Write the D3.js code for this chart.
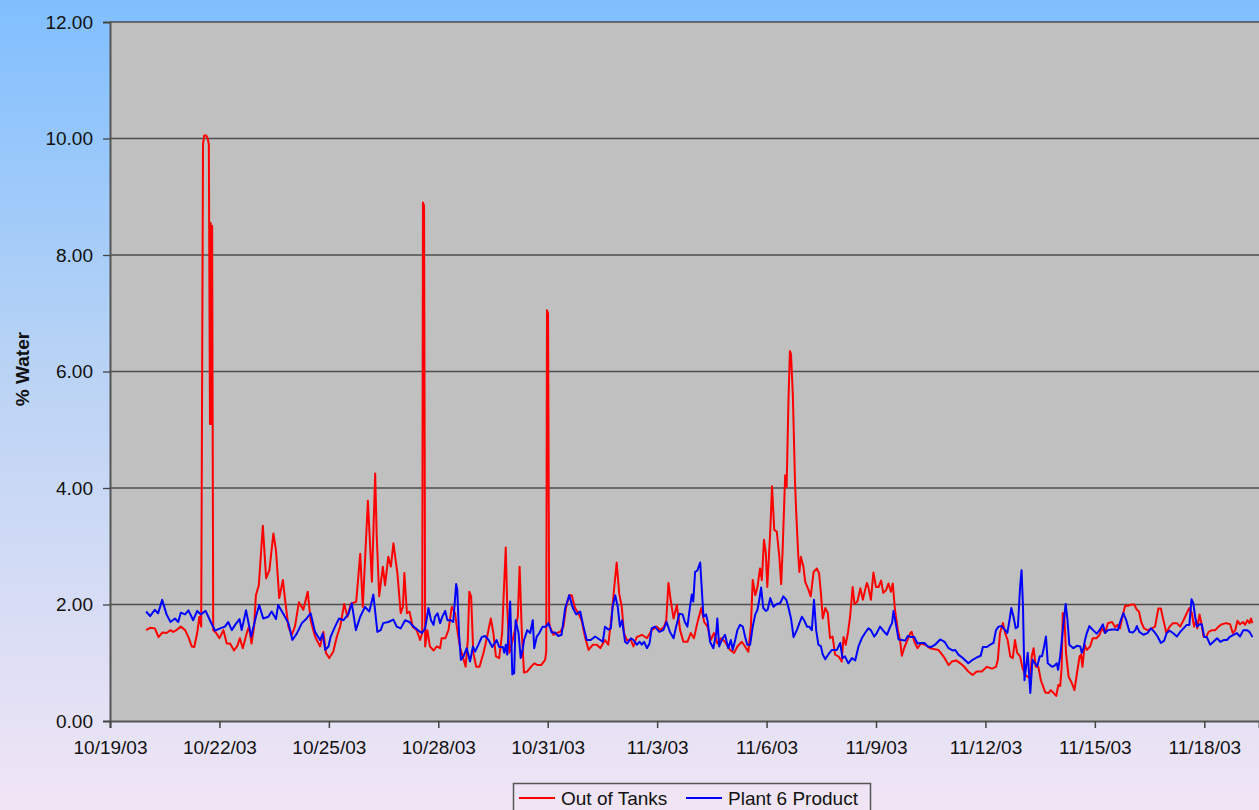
<!DOCTYPE html>
<html>
<head>
<meta charset="utf-8">
<script src="https://cdn.jsdelivr.net/npm/d3@7"></script>
<style>
  html, body { margin: 0; padding: 0; overflow: hidden; }
  svg { display: block; font-family: Arial, "Liberation Sans", sans-serif; }
</style>
</head>
<body>
<svg id="chart" width="1259" height="810"></svg>
<script>
// day offsets from 10/19/03 00:00, % water
const startDay = '10/19/03';
const tickLabels = ['10/19/03', '10/22/03', '10/25/03', '10/28/03', '10/31/03', '11/3/03',
  '11/6/03', '11/9/03', '11/12/03', '11/15/03', '11/18/03'];
const yTicks = [0, 2, 4, 6, 8, 10, 12];
const seriesNames = ['Out of Tanks', 'Plant 6 Product'];

const outOfTanks = [
  [0.99, 1.56], [1.10, 1.60], [1.23, 1.59], [1.33, 1.44], [1.44, 1.52], [1.55, 1.51], [1.66, 1.56],
  [1.73, 1.53], [1.82, 1.56], [1.94, 1.62], [2.06, 1.56], [2.15, 1.44], [2.24, 1.28], [2.31, 1.27],
  [2.39, 1.51], [2.45, 1.79], [2.50, 1.62],
  [2.55, 9.9], [2.58, 10.05], [2.64, 10.05], [2.68, 10.0], [2.71, 9.9], [2.74, 5.1], [2.76, 8.55],
  [2.78, 5.1], [2.80, 8.5], [2.83, 1.56],
  [2.91, 1.51], [3.00, 1.42], [3.11, 1.56], [3.20, 1.33], [3.29, 1.33], [3.40, 1.21], [3.49, 1.29],
  [3.56, 1.42], [3.64, 1.25], [3.75, 1.51], [3.81, 1.62], [3.88, 1.33], [3.95, 1.62], [4.00, 2.16],
  [4.08, 2.33], [4.19, 3.35], [4.28, 2.45], [4.37, 2.59], [4.48, 3.22], [4.55, 2.93], [4.64, 2.11],
  [4.74, 2.42], [4.80, 2.08], [4.89, 1.62], [4.98, 1.48], [5.07, 1.62], [5.18, 2.04], [5.30, 1.91],
  [5.42, 2.22], [5.50, 1.73], [5.62, 1.45], [5.76, 1.28], [5.85, 1.53], [5.92, 1.17], [6.01, 1.08],
  [6.12, 1.19], [6.22, 1.45], [6.31, 1.62], [6.42, 2.01], [6.51, 1.79], [6.60, 2.01], [6.75, 2.05],
  [6.86, 2.87], [6.93, 1.96], [7.07, 3.78], [7.18, 2.39], [7.27, 4.25], [7.31, 3.22], [7.38, 2.14],
  [7.48, 2.65], [7.54, 2.33], [7.63, 2.82], [7.70, 2.65], [7.77, 3.05], [7.88, 2.53], [7.97, 1.85],
  [8.03, 1.96], [8.07, 2.54], [8.14, 1.85], [8.21, 1.88], [8.30, 1.62], [8.41, 1.56], [8.50, 1.39],
  [8.56, 1.51], [8.58, 8.9], [8.61, 8.85], [8.64, 1.28], [8.70, 1.56], [8.77, 1.28], [8.87, 1.21],
  [8.96, 1.28], [9.05, 1.25], [9.09, 1.42], [9.19, 1.42], [9.28, 1.56], [9.37, 1.96], [9.46, 1.85],
  [9.52, 1.56], [9.60, 1.25], [9.67, 1.11], [9.75, 0.93], [9.81, 1.39], [9.85, 2.22], [9.90, 2.14],
  [9.96, 1.17], [10.04, 0.93], [10.13, 0.93], [10.24, 1.17], [10.33, 1.42], [10.44, 1.76], [10.51, 1.51],
  [10.58, 1.11], [10.67, 1.08], [10.75, 1.51], [10.80, 2.27], [10.85, 2.98], [10.89, 1.96], [10.95, 1.17],
  [11.04, 1.39], [11.10, 1.56], [11.18, 1.79], [11.23, 2.65], [11.29, 1.51], [11.35, 0.83], [11.44, 0.85],
  [11.54, 0.93], [11.63, 0.99], [11.73, 0.96], [11.82, 0.96], [11.93, 1.05], [11.96, 1.2], [11.98, 7.05],
  [12.01, 7.0], [12.04, 1.7], [12.06, 1.62], [12.16, 1.48], [12.25, 1.51], [12.34, 1.53], [12.43, 1.62],
  [12.50, 1.94], [12.59, 2.16], [12.66, 2.16], [12.75, 1.94], [12.84, 1.85], [12.93, 1.73], [13.02, 1.45],
  [13.12, 1.22], [13.24, 1.31], [13.35, 1.31], [13.44, 1.25],
  [13.57, 1.39], [13.66, 1.31], [13.75, 1.79], [13.82, 2.27], [13.89, 2.72], [13.96, 2.19], [14.03, 1.96],
  [14.09, 1.51], [14.17, 1.39], [14.28, 1.39], [14.35, 1.28], [14.44, 1.44], [14.58, 1.48], [14.72, 1.42],
  [14.85, 1.56], [14.99, 1.62], [15.08, 1.56], [15.19, 1.62], [15.25, 1.73], [15.31, 2.37], [15.37, 2.08],
  [15.45, 1.76], [15.54, 1.99], [15.63, 1.56], [15.72, 1.36], [15.83, 1.36], [15.92, 1.51], [16.01, 1.42],
  [16.10, 1.68], [16.21, 1.94], [16.29, 1.70], [16.38, 1.62], [16.47, 1.39], [16.56, 1.51], [16.65, 1.33],
  [16.75, 1.42], [16.86, 1.36], [17.00, 1.22], [17.11, 1.17], [17.20, 1.28], [17.32, 1.36], [17.41, 1.28],
  [17.50, 1.19], [17.57, 1.62], [17.62, 2.42], [17.69, 2.16], [17.75, 2.30], [17.82, 2.62], [17.87, 2.42],
  [17.93, 3.11], [17.98, 2.88], [18.02, 2.30], [18.10, 3.25], [18.15, 4.03], [18.21, 3.28], [18.28, 3.25],
  [18.35, 2.82], [18.40, 2.35], [18.44, 2.93], [18.51, 4.22], [18.55, 4.02], [18.60, 5.5], [18.64, 6.35],
  [18.67, 6.3], [18.72, 5.6], [18.78, 4.1], [18.81, 3.62], [18.87, 2.82], [18.90, 2.56], [18.94, 2.82],
  [19.01, 2.65], [19.06, 2.39], [19.15, 2.25], [19.21, 2.14], [19.29, 2.56], [19.38, 2.62], [19.44, 2.53],
  [19.49, 2.19], [19.54, 1.76], [19.61, 1.94], [19.68, 1.85], [19.74, 1.42], [19.81, 1.45],
  [19.88, 1.14], [19.97, 1.11], [20.06, 1.02], [20.11, 1.44], [20.17, 1.31], [20.23, 1.51], [20.29, 1.79],
  [20.36, 2.30], [20.41, 2.01], [20.49, 2.05], [20.57, 2.28], [20.64, 2.08], [20.70, 2.25], [20.75, 2.37],
  [20.79, 2.30], [20.86, 2.08], [20.93, 2.55], [21.00, 2.30], [21.07, 2.30], [21.14, 2.41], [21.20, 2.20],
  [21.28, 2.25], [21.34, 2.36], [21.41, 2.22], [21.46, 2.36], [21.52, 1.91], [21.60, 1.56], [21.66, 1.39],
  [21.71, 1.12], [21.77, 1.25], [21.84, 1.36], [21.94, 1.51], [21.98, 1.53], [22.05, 1.36], [22.14, 1.25],
  [22.23, 1.33], [22.35, 1.31], [22.48, 1.25], [22.62, 1.23], [22.71, 1.22], [22.85, 1.11], [22.99, 0.96],
  [23.08, 1.02], [23.20, 1.04], [23.31, 0.99], [23.42, 0.93], [23.53, 0.85], [23.65, 0.79], [23.76, 0.85],
  [23.90, 0.85], [24.04, 0.93], [24.18, 0.90], [24.29, 0.93], [24.34, 1.05], [24.40, 1.51], [24.48, 1.68],
  [24.54, 1.51], [24.61, 1.39], [24.68, 1.11], [24.75, 1.08], [24.81, 1.39], [24.87, 1.17], [24.95, 1.11],
  [25.01, 0.93], [25.09, 0.79], [25.16, 0.76], [25.23, 0.73], [25.27, 1.11], [25.32, 1.25], [25.38, 0.93],
  [25.45, 0.93], [25.52, 0.70], [25.64, 0.49], [25.73, 0.48], [25.79, 0.53], [25.87, 0.48], [25.94, 0.43],
  [26.00, 0.62], [26.05, 0.60],
  [26.09, 0.93], [26.12, 1.85], [26.16, 1.85], [26.21, 1.17], [26.28, 0.76], [26.37, 0.65], [26.44, 0.53],
  [26.51, 0.82], [26.58, 1.11], [26.62, 1.14], [26.66, 0.93], [26.72, 1.31], [26.78, 1.22], [26.87, 1.28],
  [26.94, 1.42], [27.04, 1.42], [27.13, 1.48], [27.19, 1.59], [27.28, 1.51], [27.36, 1.68], [27.47, 1.70],
  [27.56, 1.61], [27.62, 1.65], [27.69, 1.59], [27.77, 1.83], [27.83, 1.98], [27.92, 1.98], [28.01, 2.00],
  [28.08, 2.00], [28.15, 1.91], [28.21, 1.88], [28.27, 1.70], [28.35, 1.59], [28.44, 1.56], [28.56, 1.59],
  [28.65, 1.62], [28.74, 1.93], [28.81, 1.93], [28.88, 1.73], [28.96, 1.51], [29.05, 1.62], [29.14, 1.68],
  [29.25, 1.68], [29.34, 1.62], [29.43, 1.73], [29.52, 1.85], [29.59, 1.94], [29.66, 1.85], [29.72, 1.62],
  [29.78, 1.73], [29.81, 1.59], [29.87, 1.83], [29.93, 1.65], [29.98, 1.45], [30.05, 1.44], [30.12, 1.53],
  [30.21, 1.56], [30.30, 1.56], [30.39, 1.62], [30.48, 1.66], [30.60, 1.68], [30.71, 1.66], [30.78, 1.51],
  [30.85, 1.56], [30.91, 1.72], [30.98, 1.66], [31.06, 1.70], [31.12, 1.65], [31.18, 1.73], [31.24, 1.68],
  [31.28, 1.76], [31.32, 1.68]
];

const plant6Product = [
  [0.99, 1.88], [1.10, 1.80], [1.23, 1.91], [1.32, 1.85], [1.43, 2.08], [1.55, 1.83], [1.66, 1.70],
  [1.78, 1.76], [1.87, 1.70], [1.94, 1.86], [2.06, 1.83], [2.15, 1.90], [2.28, 1.73], [2.39, 1.89],
  [2.49, 1.83], [2.62, 1.89], [2.74, 1.73], [2.88, 1.55], [3.02, 1.59], [3.15, 1.62], [3.24, 1.70],
  [3.34, 1.56], [3.43, 1.65], [3.55, 1.75], [3.61, 1.56], [3.73, 1.90], [3.87, 1.45], [4.00, 1.79],
  [4.09, 1.99], [4.20, 1.76], [4.34, 1.79], [4.43, 1.88], [4.55, 1.75], [4.61, 1.99], [4.75, 1.84],
  [4.89, 1.68], [5.00, 1.39], [5.12, 1.50], [5.26, 1.68], [5.39, 1.76], [5.50, 1.85], [5.62, 1.53],
  [5.76, 1.39], [5.83, 1.50], [5.90, 1.22], [5.99, 1.28], [6.05, 1.45], [6.17, 1.62], [6.28, 1.76],
  [6.40, 1.73], [6.53, 1.83], [6.63, 2.02], [6.74, 1.56], [6.86, 1.79], [6.99, 1.96], [7.11, 1.88],
  [7.22, 2.17],
  [7.33, 1.53], [7.42, 1.56], [7.49, 1.68], [7.63, 1.70], [7.77, 1.74], [7.86, 1.62], [7.97, 1.59],
  [8.09, 1.73], [8.21, 1.70], [8.32, 1.62], [8.44, 1.56], [8.55, 1.51], [8.64, 1.59], [8.73, 1.94],
  [8.80, 1.73], [8.87, 1.65], [8.91, 1.79], [8.98, 1.85], [9.05, 1.68], [9.11, 1.79], [9.19, 1.89],
  [9.25, 1.73], [9.34, 1.73], [9.41, 1.70], [9.49, 2.35], [9.52, 2.25], [9.57, 1.48], [9.62, 1.05],
  [9.69, 1.11], [9.78, 1.25], [9.87, 1.02], [9.95, 1.28], [10.01, 1.19], [10.10, 1.31], [10.19, 1.44],
  [10.28, 1.46], [10.37, 1.40], [10.48, 1.27], [10.60, 1.39], [10.67, 1.27], [10.77, 1.27], [10.81, 1.17],
  [10.85, 1.31], [10.89, 1.14], [10.97, 2.05], [11.03, 0.80], [11.08, 0.82], [11.12, 1.73], [11.20, 1.51],
  [11.26, 1.08], [11.32, 1.25], [11.35, 1.39], [11.44, 1.56], [11.52, 1.51], [11.59, 1.73], [11.63, 1.25],
  [11.70, 1.45], [11.77, 1.51], [11.86, 1.62], [11.95, 1.62], [12.02, 1.68], [12.11, 1.52], [12.20, 1.52],
  [12.29, 1.46], [12.38, 1.48], [12.48, 1.94], [12.59, 2.16], [12.69, 1.94], [12.78, 1.83], [12.89, 1.88],
  [12.98, 1.62], [13.07, 1.39], [13.18, 1.39], [13.30, 1.45],
  [13.44, 1.39], [13.51, 1.36], [13.57, 1.62], [13.66, 1.57], [13.73, 1.59], [13.78, 1.96], [13.85, 2.16],
  [13.92, 1.96], [13.98, 1.62], [14.04, 1.73], [14.12, 1.36], [14.18, 1.33], [14.28, 1.42], [14.35, 1.39],
  [14.44, 1.31], [14.52, 1.36], [14.58, 1.31], [14.64, 1.36], [14.72, 1.25], [14.79, 1.33], [14.85, 1.59],
  [14.94, 1.62], [15.06, 1.53], [15.17, 1.56], [15.26, 1.70], [15.35, 1.53], [15.45, 1.42], [15.52, 1.62],
  [15.61, 1.84], [15.70, 1.83], [15.76, 1.70], [15.83, 1.62], [15.90, 1.96], [15.95, 2.17], [15.99, 2.05],
  [16.04, 2.56], [16.10, 2.58], [16.18, 2.72], [16.22, 2.30], [16.27, 1.79], [16.34, 1.83], [16.38, 1.73],
  [16.45, 1.36], [16.54, 1.25], [16.62, 1.51], [16.65, 1.76], [16.70, 1.28], [16.77, 1.39], [16.86, 1.48],
  [16.95, 1.25], [17.02, 1.39], [17.07, 1.22], [17.14, 1.39], [17.20, 1.56], [17.27, 1.65], [17.35, 1.62],
  [17.41, 1.45], [17.47, 1.31], [17.55, 1.31], [17.62, 1.62], [17.69, 1.83], [17.75, 1.91], [17.80, 2.08],
  [17.85, 2.29], [17.91, 1.94], [17.98, 1.89], [18.03, 1.91], [18.10, 2.11], [18.19, 1.96], [18.28, 2.01],
  [18.37, 2.02], [18.46, 2.14], [18.54, 2.08], [18.60, 1.95], [18.67, 1.76], [18.74, 1.44], [18.83, 1.56],
  [18.90, 1.68], [18.97, 1.79], [19.03, 1.73], [19.11, 1.62], [19.17, 1.62], [19.24, 1.56], [19.30, 2.08],
  [19.36, 1.56], [19.42, 1.31], [19.49, 1.28], [19.54, 1.14], [19.61, 1.06], [19.70, 1.15], [19.79, 1.22],
  [19.83, 1.22], [19.93, 1.22], [20.02, 1.34], [20.08, 1.08], [20.15, 1.11], [20.24, 0.99], [20.34, 1.08],
  [20.43, 1.04], [20.52, 1.28], [20.61, 1.42], [20.70, 1.51], [20.79, 1.59], [20.86, 1.56], [20.95, 1.45],
  [21.02, 1.51], [21.11, 1.62], [21.20, 1.55], [21.30, 1.48], [21.39, 1.62], [21.44, 1.68], [21.48, 1.89],
  [21.54, 1.68], [21.62, 1.40], [21.71, 1.39], [21.80, 1.38], [21.87, 1.46], [21.96, 1.44], [22.05, 1.44],
  [22.14, 1.33], [22.23, 1.34], [22.33, 1.34], [22.42, 1.28], [22.51, 1.27], [22.62, 1.31], [22.76, 1.40],
  [22.88, 1.36], [22.99, 1.25], [23.11, 1.21], [23.17, 1.22], [23.26, 1.14], [23.38, 1.08], [23.53, 0.99],
  [23.65, 1.05], [23.76, 1.09], [23.87, 1.12], [23.93, 1.27], [24.04, 1.27], [24.13, 1.31], [24.22, 1.34],
  [24.29, 1.56], [24.36, 1.62], [24.45, 1.63], [24.54, 1.56], [24.60, 1.51], [24.66, 1.73], [24.71, 1.94],
  [24.77, 1.79], [24.83, 1.59], [24.89, 1.62], [24.95, 2.30], [24.99, 2.59], [25.03, 1.96], [25.07, 0.70],
  [25.12, 0.96], [25.16, 1.17], [25.23, 0.48], [25.29, 1.05], [25.36, 0.99], [25.42, 0.94], [25.49, 1.11],
  [25.55, 1.11], [25.60, 1.25], [25.66, 1.45], [25.71, 0.99], [25.77, 0.96], [25.84, 0.93], [25.91, 0.96],
  [25.96, 0.99], [25.99, 0.88], [26.05, 1.11], [26.12, 1.56], [26.20, 2.01], [26.25, 1.73], [26.30, 1.31],
  [26.41, 1.25], [26.51, 1.29], [26.60, 1.28], [26.64, 1.17], [26.69, 1.25], [26.73, 1.39], [26.78, 1.51],
  [26.85, 1.63], [26.95, 1.56], [27.05, 1.50], [27.13, 1.56], [27.22, 1.66], [27.28, 1.51], [27.36, 1.56],
  [27.47, 1.57], [27.56, 1.57], [27.63, 1.56], [27.71, 1.73], [27.78, 1.85], [27.86, 1.73], [27.95, 1.53],
  [28.04, 1.52], [28.11, 1.56], [28.15, 1.63], [28.22, 1.53], [28.33, 1.48], [28.44, 1.51], [28.54, 1.59],
  [28.63, 1.53], [28.72, 1.45], [28.81, 1.34], [28.90, 1.38], [28.97, 1.51], [29.05, 1.55], [29.14, 1.51],
  [29.25, 1.45], [29.34, 1.53], [29.43, 1.59], [29.52, 1.65], [29.59, 1.65], [29.65, 2.09], [29.70, 2.02],
  [29.75, 1.79], [29.80, 1.62], [29.87, 1.66], [29.93, 1.66], [30.00, 1.44], [30.07, 1.44], [30.16, 1.31],
  [30.25, 1.36], [30.35, 1.42], [30.44, 1.36], [30.53, 1.39], [30.62, 1.39], [30.71, 1.45], [30.80, 1.48],
  [30.89, 1.51], [30.98, 1.45], [31.07, 1.56], [31.17, 1.56], [31.24, 1.53], [31.32, 1.44]
];

const svg = d3.select('#chart');
const W = +svg.attr('width');
const H = +svg.attr('height');
const margin = { top: 22, left: 110, bottom: 89 };
const plotBottom = H - margin.bottom;

const parse = d3.timeParse('%m/%d/%y');
const t0 = parse(startDay);
const toDate = d => d3.timeMinute.offset(t0, Math.round(d * 1440));

// background gradient
const defs = svg.append('defs');
const grad = defs.append('linearGradient')
  .attr('id', 'bg').attr('x1', 0).attr('y1', 0).attr('x2', 0).attr('y2', 1);
grad.append('stop').attr('offset', '0%').attr('stop-color', '#80bfff');
grad.append('stop').attr('offset', '45%').attr('stop-color', '#b9d3f5');
grad.append('stop').attr('offset', '100%').attr('stop-color', '#f1e5f5');
svg.append('rect').attr('width', W).attr('height', H).attr('fill', 'url(#bg)');

defs.append('clipPath').attr('id', 'plotClip')
  .append('rect')
  .attr('x', margin.left).attr('y', margin.top)
  .attr('width', W - margin.left).attr('height', plotBottom - margin.top);

const x = d3.scaleTime()
  .domain([t0, toDate(31.5)])
  .range([margin.left, W]);

const y = d3.scaleLinear()
  .domain([0, 12])
  .range([plotBottom, margin.top]);

// plot area
svg.append('rect')
  .attr('x', margin.left).attr('y', margin.top)
  .attr('width', W - margin.left + 5).attr('height', plotBottom - margin.top)
  .attr('fill', '#c0c0c0');

// gridlines
svg.append('g')
  .selectAll('line')
  .data(yTicks.filter(v => v > 0))
  .enter().append('line')
  .attr('x1', margin.left).attr('x2', W)
  .attr('y1', d => y(d)).attr('y2', d => y(d))
  .attr('stroke', '#4d4d4d')
  .attr('stroke-width', 1.3);

// y axis
const yAxis = svg.append('g')
  .attr('transform', `translate(${margin.left},0)`)
  .call(d3.axisLeft(y).tickValues(yTicks).tickFormat(d3.format('.2f')).tickSizeOuter(0).tickSize(7).tickPadding(10));
yAxis.select('.domain').attr('stroke', '#555').attr('stroke-width', 2);
yAxis.selectAll('.tick line').attr('stroke', '#444').attr('stroke-width', 1.3);
yAxis.selectAll('.tick text')
  .attr('fill', '#111')
  .style('font-size', '19px')
  .style('font-family', 'Arial, "Liberation Sans", sans-serif');

// x axis
const tickDates = tickLabels.map(parse);
const xAxis = svg.append('g')
  .attr('transform', `translate(0,${plotBottom})`)
  .call(d3.axisBottom(x).tickValues(tickDates).tickFormat((d, i) => tickLabels[i]).tickSizeOuter(0).tickSize(7).tickPadding(13));
xAxis.select('.domain').attr('stroke', '#555').attr('stroke-width', 2);
xAxis.selectAll('.tick line').attr('stroke', '#444').attr('stroke-width', 1.5);
xAxis.selectAll('.tick text')
  .attr('fill', '#111')
  .style('font-size', '19px')
  .style('font-family', 'Arial, "Liberation Sans", sans-serif');

// y title
svg.append('text')
  .attr('transform', `translate(29,369) rotate(-90)`)
  .attr('text-anchor', 'middle')
  .style('font-size', '19px')
  .style('font-weight', 'bold')
  .attr('fill', '#111')
  .text('% Water');

// lines
const line = d3.line()
  .x(d => x(toDate(d[0])))
  .y(d => y(d[1]));

const lines = svg.append('g').attr('clip-path', 'url(#plotClip)');
lines.append('path')
  .datum(outOfTanks)
  .attr('fill', 'none')
  .attr('stroke', '#ff0000')
  .attr('stroke-width', 2)
  .attr('stroke-linejoin', 'round')
  .attr('d', line);

lines.append('path')
  .datum(plant6Product)
  .attr('fill', 'none')
  .attr('stroke', '#0000ff')
  .attr('stroke-width', 2)
  .attr('stroke-linejoin', 'round')
  .attr('d', line);

// legend
const legend = svg.append('g');
legend.append('rect')
  .attr('x', 513.5).attr('y', 783.5)
  .attr('width', 357).attr('height', 40)
  .attr('fill', 'none')
  .attr('stroke', '#555')
  .attr('stroke-width', 1.5);

const legendItems = [
  { name: seriesNames[0], color: '#ff0000', x: 519 },
  { name: seriesNames[1], color: '#0000ff', x: 686 }
];
const li = legend.selectAll('.item')
  .data(legendItems)
  .enter().append('g')
  .attr('class', 'item')
  .attr('transform', d => `translate(${d.x},798)`);
li.append('line')
  .attr('x1', 0).attr('x2', 36)
  .attr('stroke', d => d.color)
  .attr('stroke-width', 2);
li.append('text')
  .attr('x', 42)
  .attr('dy', '0.35em')
  .style('font-size', '19px')
  .attr('fill', '#111')
  .text(d => d.name);
</script>
</body>
</html>
